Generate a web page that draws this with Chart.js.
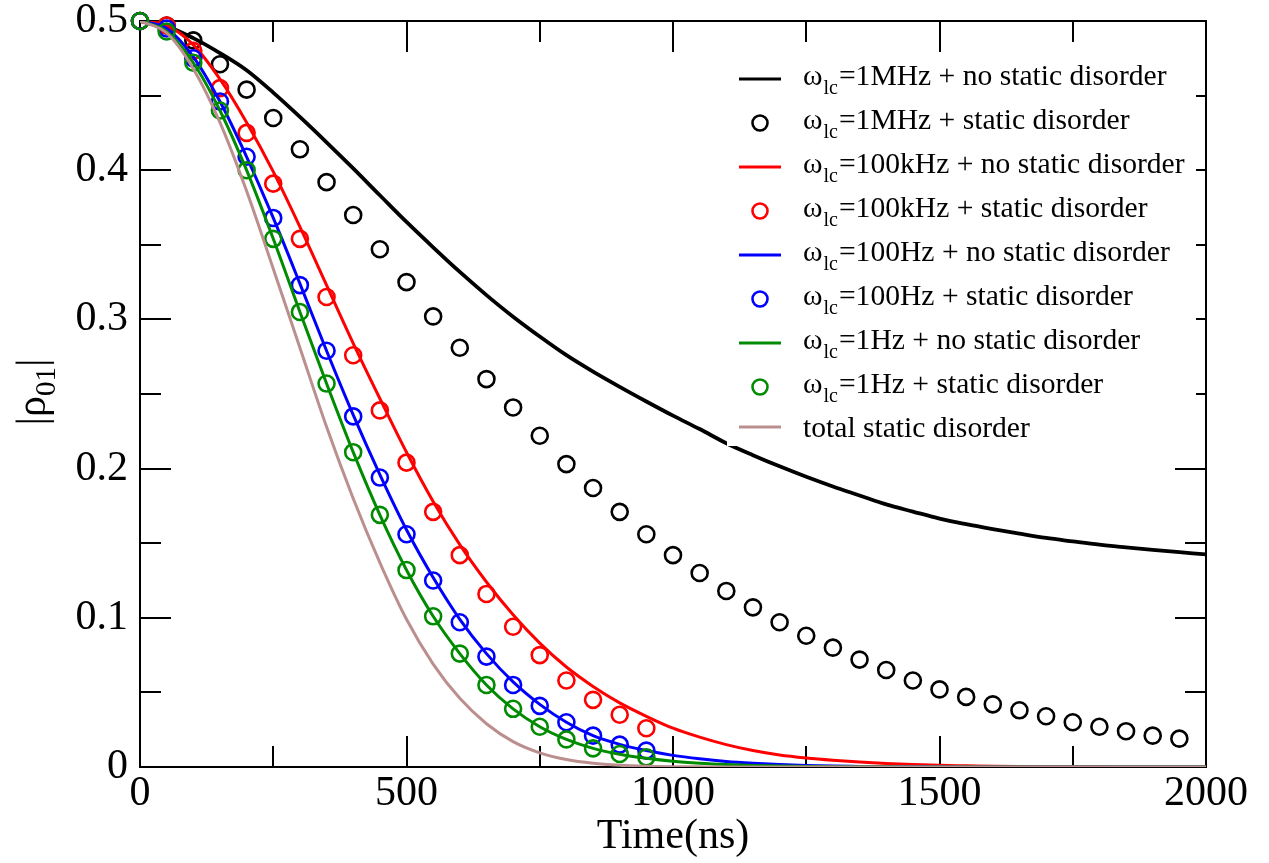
<!DOCTYPE html>
<html>
<head>
<meta charset="utf-8">
<script src="https://cdn.jsdelivr.net/npm/chart.js@4.4.1/dist/chart.umd.min.js"></script>
<style>
  html, body { margin: 0; padding: 0; background: #fff; }
</style>
</head>
<body>
<canvas id="decayChart" width="1269" height="863"></canvas>
<script>
// time grid of the smooth curves (ns)
var lineTimes = [0, 50, 100, 150, 200, 250, 300, 350, 400, 450, 500, 550, 600, 650, 700, 750, 800, 850, 900, 950,
                 1000, 1050, 1100, 1150, 1200, 1250, 1300, 1350, 1400, 1450, 1500, 1550, 1600, 1650, 1700, 1750, 1800, 1850, 1900, 1950, 2000];

// |rho_01| without static disorder
var line1MHz   = [0.500, 0.4965, 0.4885, 0.4785, 0.467, 0.452, 0.4357, 0.4187, 0.4012, 0.3832, 0.3653, 0.3483, 0.3318, 0.3163, 0.3018, 0.2885, 0.276, 0.265, 0.2548, 0.245,
                  0.2355, 0.2265, 0.217, 0.209, 0.2015, 0.1945, 0.188, 0.182, 0.176, 0.1712, 0.1665, 0.1628, 0.1595, 0.1564, 0.1535, 0.1512, 0.149, 0.1472, 0.1455, 0.144, 0.1425];
var line100kHz = [0.500, 0.497, 0.484, 0.461, 0.432, 0.399, 0.362, 0.323, 0.284, 0.247, 0.211, 0.178, 0.149, 0.124, 0.102, 0.083, 0.067, 0.054, 0.043, 0.034,
                  0.026, 0.020, 0.015, 0.011, 0.008, 0.006, 0.0045, 0.0033, 0.0023, 0.0016, 0.0011, 0.0008, 0.0005, 0.0003, 0.0002, 0.0001, 0.0001, 0, 0, 0, 0];
var line100Hz  = [0.500, 0.495, 0.476, 0.446, 0.409, 0.368, 0.324, 0.279, 0.236, 0.196, 0.159, 0.127, 0.099, 0.076, 0.057, 0.042, 0.030, 0.021, 0.0152, 0.011,
                  0.0078, 0.0055, 0.0037, 0.0025, 0.0016, 0.001, 0.0006, 0.0004, 0.0002, 0.0001, 0.0001, 0, 0, 0, 0, 0, 0, 0, 0, 0, 0];
var line1Hz    = [0.500, 0.493, 0.472, 0.440, 0.400, 0.354, 0.305, 0.257, 0.211, 0.169, 0.132, 0.101, 0.076, 0.055, 0.039, 0.027, 0.0185, 0.0125, 0.0085, 0.0058,
                  0.0038, 0.0025, 0.0016, 0.001, 0.0006, 0.0004, 0.0002, 0.0001, 0.0001, 0, 0, 0, 0, 0, 0, 0, 0, 0, 0, 0, 0];
var lineStatic = [0.500, 0.492, 0.468, 0.432, 0.386, 0.334, 0.281, 0.228, 0.180, 0.137, 0.099, 0.069, 0.046, 0.029, 0.017, 0.0095, 0.005, 0.0025, 0.0012, 0.0005,
                  0.0002, 0.0001, 0, 0, 0, 0, 0, 0, 0, 0, 0, 0, 0, 0, 0, 0, 0, 0, 0, 0, 0];

// sampled points with static disorder
var circleTimesLong = [0, 50, 100, 150, 200, 250, 300, 350, 400, 450, 500, 550, 600, 650, 700, 750, 800, 850, 900, 950,
                       1000, 1050, 1100, 1150, 1200, 1250, 1300, 1350, 1400, 1450, 1500, 1550, 1600, 1650, 1700, 1750, 1800, 1850, 1900, 1950];
var circleTimesShort = [0, 50, 100, 150, 200, 250, 300, 350, 400, 450, 500, 550, 600, 650, 700, 750, 800, 850, 900, 950];

var dots1MHz   = [0.500, 0.497, 0.487, 0.471, 0.454, 0.435, 0.414, 0.392, 0.370, 0.347, 0.325, 0.302, 0.281, 0.260, 0.241, 0.222, 0.203, 0.187, 0.171, 0.156,
                  0.142, 0.130, 0.118, 0.107, 0.097, 0.088, 0.080, 0.072, 0.065, 0.058, 0.052, 0.047, 0.042, 0.038, 0.034, 0.030, 0.027, 0.024, 0.021, 0.019];
var dots100kHz = [0.500, 0.497, 0.480, 0.455, 0.425, 0.391, 0.354, 0.315, 0.276, 0.239, 0.204, 0.171, 0.142, 0.116, 0.094, 0.075, 0.058, 0.045, 0.035, 0.026];
var dots100Hz  = [0.500, 0.495, 0.475, 0.446, 0.409, 0.368, 0.323, 0.279, 0.235, 0.194, 0.156, 0.125, 0.097, 0.074, 0.055, 0.041, 0.030, 0.021, 0.015, 0.011];
var dots1Hz    = [0.500, 0.493, 0.472, 0.440, 0.400, 0.354, 0.305, 0.257, 0.211, 0.169, 0.132, 0.101, 0.076, 0.055, 0.039, 0.027, 0.0185, 0.0125, 0.0087, 0.0065];

var cutoffNames = ['1MHz', '100kHz', '100Hz', '1Hz'];
var cutoffColors = ['#000000', '#ff0000', '#0000ff', '#008b00'];
var staticColor = '#bc8f8f';

var SERIF = '"Liberation Serif", "Times New Roman", serif';

function xy(times, vals) {
    return times.map(function (t, i) { return { x: t, y: vals[i] }; });
}

var lineSets = [line1MHz, line100kHz, line100Hz, line1Hz];
var dotSets = [dots1MHz, dots100kHz, dots100Hz, dots1Hz];
var dotTimes = [circleTimesLong, circleTimesShort, circleTimesShort, circleTimesShort];

var datasets = [];
for (var i = 0; i < cutoffNames.length; i++) {
    datasets.push({
        label: '=' + cutoffNames[i] + ' + no static disorder',
        sub: 'lc',
        kind: 'line',
        data: xy(lineTimes, lineSets[i]),
        borderColor: cutoffColors[i],
        borderWidth: i === 0 ? 3.8 : 3,
        pointRadius: 0,
        cubicInterpolationMode: 'monotone',
        fill: false
    });
    datasets.push({
        label: '=' + cutoffNames[i] + ' + static disorder',
        sub: 'lc',
        kind: 'dot',
        data: xy(dotTimes[i], dotSets[i]),
        showLine: false,
        borderColor: cutoffColors[i],
        backgroundColor: 'rgba(0,0,0,0)',
        borderWidth: 2.6,
        pointRadius: 8,
        pointHoverRadius: 8,
        pointStyle: 'circle',
        clip: false
    });
}
datasets.push({
    label: 'total static disorder',
    sub: null,
    kind: 'line',
    data: xy(lineTimes, lineStatic),
    borderColor: staticColor,
    borderWidth: 3,
    pointRadius: 0,
    cubicInterpolationMode: 'monotone',
    fill: false
});
// later entries are painted on top
datasets.forEach(function (d, k) { d.order = datasets.length - k; });

// box with inward major/minor ticks on all four sides
var frameTicks = {
    id: 'frameTicks',
    beforeDatasetsDraw: function (chart) {
        var ctx = chart.ctx, a = chart.chartArea;
        var xs = chart.scales.x, ys = chart.scales.y;
        var xMaj = xs.ticks.map(function (t) { return t.value; });
        var yMaj = ys.ticks.map(function (t) { return t.value; });
        ctx.save();
        ctx.strokeStyle = '#000';
        ctx.lineWidth = 2;
        ctx.beginPath();
        function xTick(v, len) {
            var p = Math.round(xs.getPixelForValue(v));
            ctx.moveTo(p, a.bottom); ctx.lineTo(p, a.bottom - len);
            ctx.moveTo(p, a.top); ctx.lineTo(p, a.top + len);
        }
        function yTick(v, len) {
            var p = Math.round(ys.getPixelForValue(v));
            ctx.moveTo(a.left, p); ctx.lineTo(a.left + len, p);
            ctx.moveTo(a.right, p); ctx.lineTo(a.right - len, p);
        }
        xMaj.forEach(function (v, k) {
            xTick(v, 31);
            if (k > 0) xTick((v + xMaj[k - 1]) / 2, 21);
        });
        yMaj.forEach(function (v, k) {
            yTick(v, 31);
            if (k > 0) yTick((v + yMaj[k - 1]) / 2, 21);
        });
        ctx.stroke();
        ctx.strokeRect(a.left, a.top, a.right - a.left, a.bottom - a.top);
        ctx.restore();
    }
};

// legend with subscripted omega labels
var legendBox = {
    id: 'legendBox',
    afterDatasetsDraw: function (chart) {
        var ctx = chart.ctx;
        var x0 = 739, x1 = 781, tx = 803, base0 = 85, step = 44;
        var big = '29.6px ' + SERIF, small = '20px ' + SERIF;
        ctx.save();
        ctx.fillStyle = '#fff';
        ctx.fillRect(727, 56, 469, 390);
        chart.data.datasets.forEach(function (d, k) {
            var base = base0 + k * step;
            var sy = d.sub ? base - 6 : base - 10;
            ctx.strokeStyle = d.borderColor;
            if (d.kind === 'line') {
                ctx.lineWidth = 3;
                ctx.beginPath();
                ctx.moveTo(x0, sy); ctx.lineTo(x1, sy);
                ctx.stroke();
            } else {
                ctx.lineWidth = 2.6;
                ctx.beginPath();
                ctx.arc((x0 + x1) / 2, sy, 7.5, 0, Math.PI * 2);
                ctx.stroke();
            }
            ctx.fillStyle = '#000';
            ctx.textBaseline = 'alphabetic';
            ctx.textAlign = 'left';
            var x = tx;
            if (d.sub) {
                ctx.font = big;
                ctx.fillText('\u03c9', x, base);
                x += ctx.measureText('\u03c9').width;
                ctx.font = small;
                ctx.fillText(d.sub, x + 1, base + 9);
                x += ctx.measureText(d.sub).width + 2;
            }
            ctx.font = big;
            ctx.fillText(d.label, x, base);
        });
        ctx.restore();
    }
};

// rotated y axis title |rho_01|
var yTitle = {
    id: 'yTitle',
    afterDraw: function (chart) {
        var ctx = chart.ctx, a = chart.chartArea;
        ctx.save();
        ctx.translate(45, (a.top + a.bottom) / 2 - 2);
        ctx.rotate(-Math.PI / 2);
        ctx.fillStyle = '#000';
        ctx.textBaseline = 'alphabetic';
        var big = '42px ' + SERIF, small = '29px ' + SERIF;
        ctx.font = big;
        var w1 = ctx.measureText('|\u03c1').width, w3 = ctx.measureText('|').width;
        ctx.font = small;
        var w2 = ctx.measureText('01').width;
        var x = -(w1 + w2 + w3) / 2;
        ctx.font = big;
        ctx.fillText('|\u03c1', x, 0);
        ctx.font = small;
        ctx.fillText('01', x + w1, 10);
        ctx.font = big;
        ctx.fillText('|', x + w1 + w2, 0);
        ctx.restore();
    }
};

var ctx = document.getElementById('decayChart').getContext('2d');
var chart = new Chart(ctx, {
    type: 'line',
    data: { datasets: datasets },
    options: {
        responsive: false,
        animation: false,
        events: [],
        layout: { padding: { top: 21, right: 63, left: 0, bottom: 0 } },
        plugins: { legend: { display: false }, tooltip: { enabled: false } },
        scales: {
            x: {
                type: 'linear',
                min: 0, max: 2000,
                grid: { display: false, drawTicks: false },
                border: { display: false },
                ticks: {
                    stepSize: 500,
                    padding: 6,
                    color: '#000',
                    maxRotation: 0,
                    font: { family: SERIF, size: 42, lineHeight: 1 },
                    callback: function (v) { return String(v); }
                },
                title: {
                    display: true,
                    text: 'Time(ns)',
                    color: '#000',
                    font: { family: SERIF, size: 42, lineHeight: 1 },
                    padding: { top: 0, bottom: 5 }
                },
                afterFit: function (s) { s.height = 96; s.paddingLeft = 0; s.paddingRight = 0; }
            },
            y: {
                type: 'linear',
                min: 0, max: 0.5,
                grid: { display: false, drawTicks: false },
                border: { display: false },
                ticks: {
                    stepSize: 0.1,
                    padding: 12,
                    color: '#000',
                    font: { family: SERIF, size: 42, lineHeight: 1 },
                    callback: function (v) { return String(+v.toFixed(1)); }
                },
                afterFit: function (s) { s.width = 140; s.paddingTop = 0; s.paddingBottom = 0; }
            }
        }
    },
    plugins: [frameTicks, legendBox, yTitle]
});
</script>
</body>
</html>
